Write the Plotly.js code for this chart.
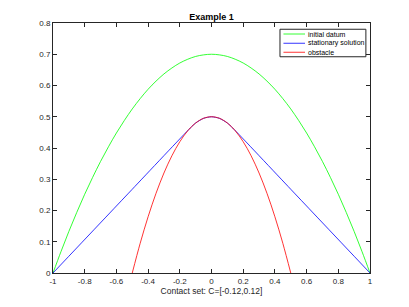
<!DOCTYPE html>
<html><head><meta charset="utf-8">
<script src="https://cdn.plot.ly/plotly-3.0.1.min.js"></script>
<style>html,body{margin:0;padding:0;background:#fff}#chart{width:409px;height:307px}</style>
</head><body><div id="chart"></div>
<script>
const xGrid = [-1,-0.95,-0.9,-0.85,-0.8,-0.75,-0.7,-0.65,-0.6,-0.55,-0.5,-0.45,-0.4,-0.35,-0.3,-0.25,-0.2,-0.15,-0.1,-0.05,0,
  0.05,0.1,0.15,0.2,0.25,0.3,0.35,0.4,0.45,0.5,0.55,0.6,0.65,0.7,0.75,0.8,0.85,0.9,0.95,1];
const initialDatum = [0,0.068,0.133,0.194,0.252,0.306,0.357,0.404,0.448,0.488,0.525,0.558,0.588,0.614,0.637,0.656,0.672,0.684,0.693,0.698,0.7,
  0.698,0.693,0.684,0.672,0.656,0.637,0.614,0.588,0.558,0.525,0.488,0.448,0.404,0.357,0.306,0.252,0.194,0.133,0.068,0];
const xStationary = [-1,-0.5,-0.134,-0.1,-0.05,0,0.05,0.1,0.134,0.5,1];
const stationary = [0,0.268,0.464,0.48,0.495,0.5,0.495,0.48,0.464,0.268,0];
const xObstacle = [-0.5,-0.45,-0.4,-0.35,-0.3,-0.25,-0.2,-0.15,-0.1,-0.05,0,0.05,0.1,0.15,0.2,0.25,0.3,0.35,0.4,0.45,0.5];
const obstacle = [0,0.095,0.18,0.255,0.32,0.375,0.42,0.455,0.48,0.495,0.5,0.495,0.48,0.455,0.42,0.375,0.32,0.255,0.18,0.095,0];
const seriesNames = ['initial datum','stationary solution','obstacle'];
const seriesColors = ['#00ff00','#0000ff','#ff0000'];
const xTicks = [-1,-0.8,-0.6,-0.4,-0.2,0,0.2,0.4,0.6,0.8,1];
const xTickText = ['-1','-0.8','-0.6','-0.4','-0.2','0','0.2','0.4','0.6','0.8','1'];
const yTicks = [0,0.1,0.2,0.3,0.4,0.5,0.6,0.7,0.8];
const yTickText = ['0','0.1','0.2','0.3','0.4','0.5','0.6','0.7','0.8'];

const font = 'Liberation Sans, Arial, sans-serif';
const xs = [xGrid, xStationary, xObstacle];
const ys = [initialDatum, stationary, obstacle];
const traces = seriesNames.map((n,i) => ({x:xs[i], y:ys[i], name:n, mode:'lines',
  line:{color:seriesColors[i], width:0.8, shape:'spline', smoothing: i===1 ? 0.6 : 1}}));

// compact MATLAB-style legend (paper coordinates)
const lg = {x0:0.716, x1:0.987, y0:0.865, y1:0.975, lx0:0.727, lx1:0.795, tx:0.800, rows:[0.956, 0.919, 0.883]};
const shapes = [{type:'rect', xref:'paper', yref:'paper', x0:lg.x0, x1:lg.x1, y0:lg.y0, y1:lg.y1,
  line:{color:'#262626', width:1}, fillcolor:'#fff', layer:'above'}];
const annotations = [];
seriesNames.forEach((n,i) => {
  shapes.push({type:'line', xref:'paper', yref:'paper', x0:lg.lx0, x1:lg.lx1, y0:lg.rows[i], y1:lg.rows[i],
    line:{color:seriesColors[i], width:0.8}, layer:'above'});
  annotations.push({xref:'paper', yref:'paper', x:lg.tx, y:lg.rows[i], xanchor:'left', yanchor:'middle',
    text:n, showarrow:false, borderpad:0, font:{family:font, size:7, color:'#000'}});
});

const axisCommon = {showline:true, linecolor:'#262626', linewidth:1, mirror:'ticks', ticks:'inside', ticklen:4,
  tickcolor:'#262626', tickwidth:1, showgrid:false, zeroline:false, tickfont:{family:font, size:8, color:'#262626'}};
const layout = {
  width:409, height:307, paper_bgcolor:'#fff', plot_bgcolor:'#fff',
  margin:{l:53, r:39, t:23, b:34, pad:0},
  title:{text:'<b>Example 1</b>', font:{family:font, size:9, color:'#000'}, x:0.5, xref:'paper', y:0.945, yanchor:'middle'},
  xaxis:Object.assign({}, axisCommon, {range:[-1,1], tickvals:xTicks, ticktext:xTickText,
    title:{text:'Contact set: C=[-0.12,0.12]', font:{family:font, size:8.5, color:'#262626'}, standoff:2}}),
  yaxis:Object.assign({}, axisCommon, {range:[0,0.8], tickvals:yTicks, ticktext:yTickText}),
  showlegend:false,
  shapes:shapes, annotations:annotations
};
Plotly.newPlot('chart', traces, layout, {displayModeBar:false, staticPlot:true});
</script></body></html>
